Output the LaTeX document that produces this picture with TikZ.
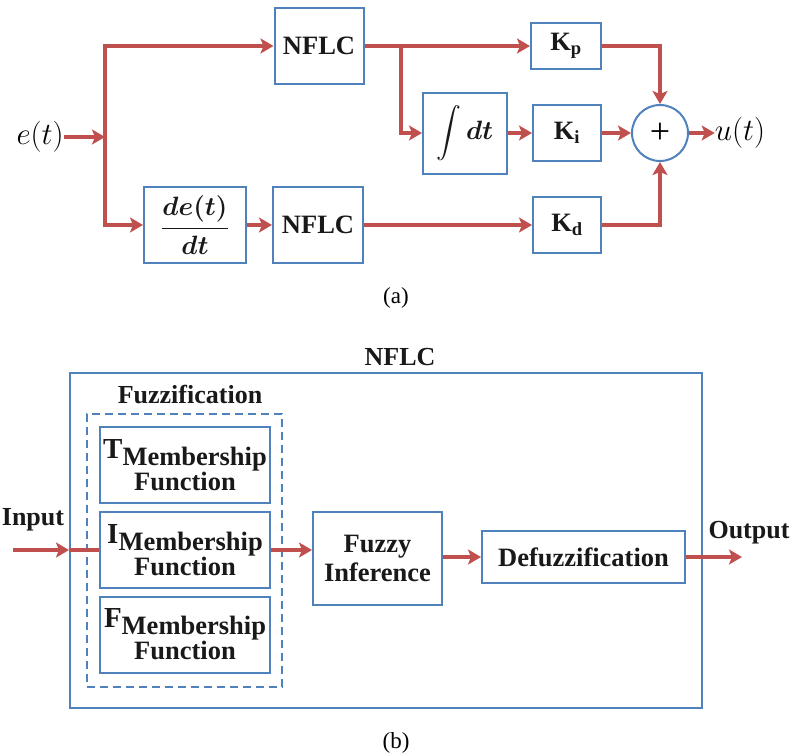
\documentclass[tikz,border=0pt]{standalone}
\usepackage{fix-cm}
\usepackage{amsmath}
\usepackage{fontspec}
\setmainfont{Liberation Serif}
\usetikzlibrary{arrows.meta, positioning, calc}
\definecolor{arrowred}{RGB}{192,80,77}
\definecolor{boxblue}{RGB}{79,129,189}

\begin{document}
\begin{tikzpicture}[x=1pt, y=-1pt,
    block/.style={rectangle, draw=boxblue, line width=2pt, fill=white, align=center, inner sep=0pt, font=\fontsize{26.5}{29}\selectfont\bfseries, text=black!90},
    sumnode/.style={circle, draw=boxblue, line width=2pt, fill=white, inner sep=0pt, minimum size=56pt, font=\fontsize{36}{36}\selectfont},
    tag/.style={font=\fontsize{26}{29}\selectfont\bfseries, text=black!90, inner sep=0pt},
    mathtag/.style={font=\fontsize{31}{34}\selectfont, inner sep=0pt},
    captext/.style={font=\fontsize{23}{26}\selectfont, inner sep=0pt},
    arrow/.style={-{Stealth[length=13pt, width=15pt, inset=3pt]}, line width=4pt, draw=arrowred},
    wire/.style={line width=4pt, draw=arrowred}
]
\useasboundingbox (0,0) rectangle (792,755);

% (a) PID structure
\node[mathtag] (et) at (40,137) {$e(t)$};
\coordinate (split) at (105,137);
\node[block, minimum width=89pt, minimum height=76pt] (nflca) at (319,46) {NFLC};
\node[block, minimum width=102pt, minimum height=76pt] (dedt) at (195,225) {$\boldsymbol{\dfrac{de(t)}{dt}}$};
\node[block, minimum width=90pt, minimum height=76pt] (nflcb) at (318,225) {NFLC};
\node[block, minimum width=70pt, minimum height=46pt] (kp) at (566,46) {K\textsubscript{p}};
\coordinate (br) at (401,46);
\node[block, minimum width=84pt, minimum height=81pt] (integ) at (465,133) {$\displaystyle\int\boldsymbol{dt}$};
\node[block, minimum width=68pt, minimum height=56pt] (ki) at (567,133) {K\textsubscript{i}};
\node[sumnode] (sum) at (660,133) {+};
\node[block, minimum width=68pt, minimum height=56pt] (kd) at (567,225) {K\textsubscript{d}};
\node[mathtag] (ut) at (740,133) {$u(t)$};
\node[captext] (capa) at (396,298) {(a)};

\draw[arrow] (et.east) -- (split);
\draw[arrow] (split) |- (nflca.west);
\draw[arrow] (split) |- (dedt.west);
\draw[arrow] (dedt) -- (nflcb);
\draw[arrow] (nflca) -- (kp);
\draw[arrow] (br) |- (integ.west);
\draw[arrow] (integ) -- (ki);
\draw[arrow] (ki) -- (sum);
\draw[arrow] (kp.east) -| (sum.north);
\draw[arrow] (nflcb) -- (kd);
\draw[arrow] (kd.east) -| (sum.south);
\draw[arrow] (sum) -- (ut);

% (b) inside the NFLC
\node[tag] (nflctitle) at (400,357) {NFLC};
\node[block, minimum width=632pt, minimum height=335pt] (nflcbox) at (386,540.5) {};
\node[tag] (fuzztitle) at (190,394) {Fuzzification};
\node[block, dash pattern=on 8pt off 5pt, line width=2.5pt, minimum width=195pt, minimum height=273pt] (fuzzbox) at (184.5,550.5) {};
\node[block, minimum width=170pt, minimum height=76pt] (tmf) at (185,465) {{\fontsize{29}{29}\selectfont T}\raisebox{-7pt}{Membership}\\Function};
\node[block, minimum width=170pt, minimum height=76pt] (imf) at (185,550) {{\fontsize{29}{29}\selectfont I}\raisebox{-7pt}{Membership}\\Function};
\node[block, minimum width=170pt, minimum height=76pt] (fmf) at (185,634.5) {{\fontsize{29}{29}\selectfont F}\raisebox{-7pt}{Membership}\\Function};
\node[block, minimum width=129pt, minimum height=93pt] (infer) at (377.5,558.5) {Fuzzy\\Inference};
\node[block, minimum width=203pt, minimum height=52pt] (defuzz) at (583.5,557) {Defuzzification};
\node[tag] (inp) at (33,520) {Input};
\coordinate (inend) at (13,550);
\node[tag] (outp) at (749,533) {Output};
\coordinate (outend) at (742,557);
\node[captext] (capb) at (396,743) {(b)};

\draw[wire] (inend -| nflcbox.west) -- (imf.west);
\draw[arrow] (inend) -- (inend -| nflcbox.west);
\draw[arrow] (imf.east) -- (imf.east -| infer.west);
\draw[arrow] (defuzz.west -| infer.east) -- (defuzz.west);
\draw[arrow] (defuzz.east) -- (outend);

\end{tikzpicture}
\end{document}
